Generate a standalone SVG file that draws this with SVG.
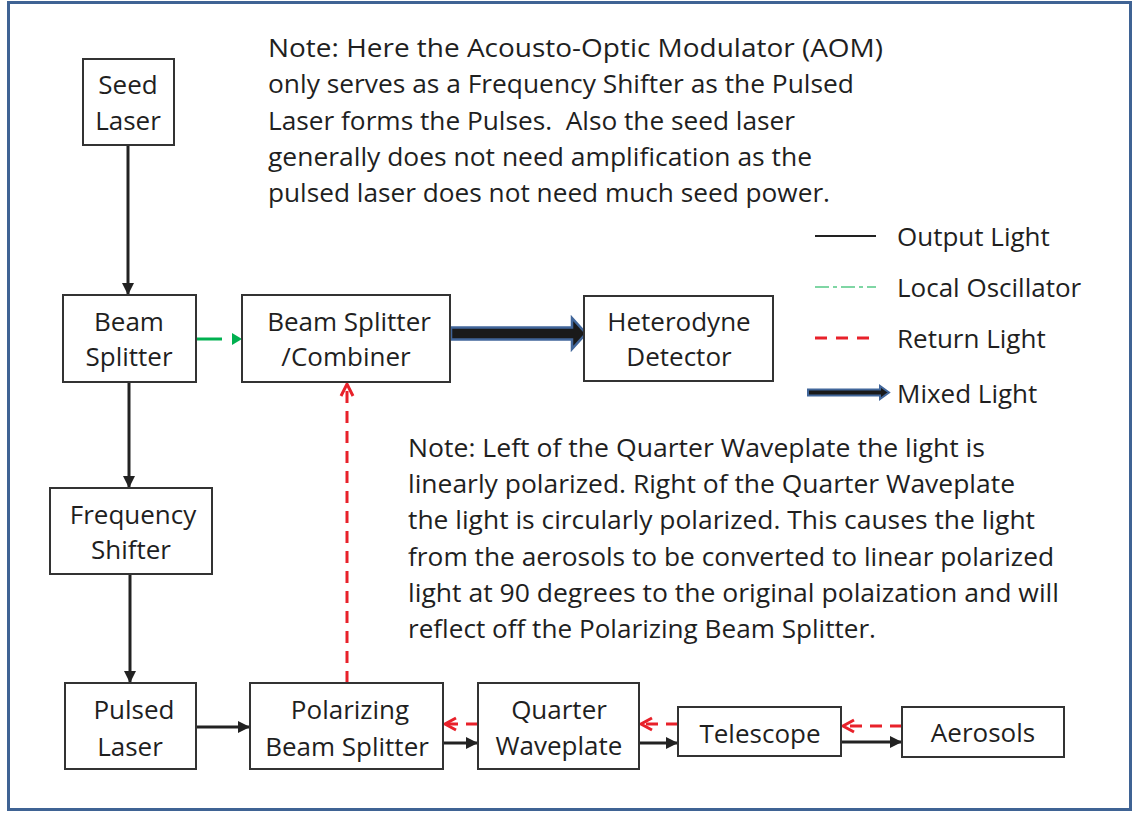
<svg xmlns="http://www.w3.org/2000/svg" width="1133" height="813" viewBox="0 0 1133 813">
<style>
  text { font-family: "Open Sans", "Noto Sans", "Liberation Sans", sans-serif; fill: #1f1f1f; }
  .lbl { font-size: 26px; text-anchor: middle; }
  .note { font-size: 25px; }
  .leg { font-size: 26px; }
  .box { fill: #ffffff; stroke: #333333; stroke-width: 2; }
  .blk { stroke: #222222; stroke-width: 3; fill: none; }
  .red { stroke: #e8212a; stroke-width: 3; fill: none; stroke-dasharray: 12 8; }
  .chev { stroke: #e8212a; stroke-width: 3; fill: none; }
  .grn { stroke: #00b050; stroke-width: 3; fill: none; }
</style>
<defs>
  <marker id="ah" viewBox="0 0 10 10" refX="10" refY="5" markerWidth="4" markerHeight="4" markerUnits="strokeWidth" orient="auto">
    <path d="M0,0 L10,5 L0,10 Z" fill="#222222"/>
  </marker>
</defs>
<rect x="8.5" y="2.5" width="1122" height="807" fill="#ffffff" stroke="#3f6394" stroke-width="3"/>

<g id="connectors">
  <line class="blk" x1="128" y1="146" x2="128" y2="295" marker-end="url(#ah)"/>
  <line class="blk" x1="129" y1="383" x2="129" y2="488" marker-end="url(#ah)"/>
  <line class="blk" x1="130" y1="575" x2="130" y2="683" marker-end="url(#ah)"/>
  <line class="blk" x1="197" y1="727" x2="250" y2="727" marker-end="url(#ah)"/>
  <line class="blk" x1="444" y1="743" x2="478" y2="743" marker-end="url(#ah)"/>
  <line class="blk" x1="640" y1="743" x2="678" y2="743" marker-end="url(#ah)"/>
  <line class="blk" x1="842" y1="742" x2="902" y2="742" marker-end="url(#ah)"/>
  <!-- green local oscillator -->
  <line class="grn" x1="197" y1="339" x2="222" y2="339"/>
  <path d="M232,333 L242,339 L232,345 Z" fill="#00b050"/>
  <!-- mixed light -->
  <path d="M451,327.5 L572,327.5 L572,318 L586,333.5 L572,349 L572,339.5 L451,339.5 Z" fill="#1a1a1a" stroke="#41669a" stroke-width="2.5" stroke-linejoin="miter"/>
  <!-- return light -->
  <line class="red" x1="347" y1="683" x2="347" y2="386"/>
  <path class="chev" d="M341,396 L347,384 L353,396"/>
  <line class="red" x1="478" y1="724" x2="447" y2="724" stroke-dasharray="12 8"/>
  <path class="chev" d="M456,718 L445,724 L456,730"/>
  <line class="red" x1="678" y1="724" x2="643" y2="724" stroke-dasharray="12 8"/>
  <path class="chev" d="M652,718 L641,724 L652,730"/>
  <line class="red" x1="902" y1="726" x2="845" y2="726" stroke-dasharray="14 9"/>
  <path class="chev" d="M854,720 L843,726 L854,732"/>
</g>

<g id="seed-laser">
  <rect class="box" x="83" y="59" width="91" height="86"/>
  <text class="lbl" x="128" y="94">Seed</text>
  <text class="lbl" x="128" y="130">Laser</text>
</g>
<g id="beam-splitter">
  <rect class="box" x="63" y="295" width="133" height="87"/>
  <text class="lbl" x="129" y="331">Beam</text>
  <text class="lbl" x="129" y="366">Splitter</text>
</g>
<g id="beam-splitter-combiner">
  <rect class="box" x="242" y="295" width="208" height="87"/>
  <text class="lbl" x="349" y="331">Beam Splitter</text>
  <text class="lbl" x="346" y="366">/Combiner</text>
</g>
<g id="heterodyne-detector">
  <rect class="box" x="584" y="296" width="189" height="85"/>
  <text class="lbl" x="679" y="331">Heterodyne</text>
  <text class="lbl" x="679" y="366">Detector</text>
</g>
<g id="frequency-shifter">
  <rect class="box" x="50" y="488" width="162" height="86"/>
  <text class="lbl" x="133" y="524">Frequency</text>
  <text class="lbl" x="131" y="559">Shifter</text>
</g>
<g id="pulsed-laser">
  <rect class="box" x="65" y="683" width="131" height="86"/>
  <text class="lbl" x="134" y="719">Pulsed</text>
  <text class="lbl" x="130" y="756">Laser</text>
</g>
<g id="polarizing-beam-splitter">
  <rect class="box" x="250" y="683" width="193" height="86"/>
  <text class="lbl" x="350" y="719">Polarizing</text>
  <text class="lbl" x="347" y="756">Beam Splitter</text>
</g>
<g id="quarter-waveplate">
  <rect class="box" x="478" y="683" width="161" height="86"/>
  <text class="lbl" x="559" y="719">Quarter</text>
  <text class="lbl" x="559" y="755">Waveplate</text>
</g>
<g id="telescope">
  <rect class="box" x="678" y="707" width="163" height="49"/>
  <text class="lbl" x="760" y="743">Telescope</text>
</g>
<g id="aerosols">
  <rect class="box" x="902" y="707" width="162" height="50"/>
  <text class="lbl" x="983" y="742">Aerosols</text>
</g>

<g id="note-aom">
  <text class="note" x="268" y="57" textLength="615" lengthAdjust="spacingAndGlyphs">Note: Here the Acousto-Optic Modulator (AOM)</text>
  <text class="note" x="268" y="93" textLength="586" lengthAdjust="spacingAndGlyphs">only serves as a Frequency Shifter as the Pulsed</text>
  <text class="note" x="268" y="130" textLength="527" lengthAdjust="spacingAndGlyphs" xml:space="preserve">Laser forms the Pulses.  Also the seed laser</text>
  <text class="note" x="268" y="166" textLength="544" lengthAdjust="spacingAndGlyphs">generally does not need amplification as the</text>
  <text class="note" x="268" y="202" textLength="562" lengthAdjust="spacingAndGlyphs">pulsed laser does not need much seed power.</text>
</g>
<g id="note-polarization">
  <text class="note" x="408" y="457" textLength="577" lengthAdjust="spacingAndGlyphs">Note: Left of the Quarter Waveplate the light is</text>
  <text class="note" x="408" y="493" textLength="607" lengthAdjust="spacingAndGlyphs">linearly polarized. Right of the Quarter Waveplate</text>
  <text class="note" x="408" y="529" textLength="627" lengthAdjust="spacingAndGlyphs">the light is circularly polarized. This causes the light</text>
  <text class="note" x="408" y="566" textLength="646" lengthAdjust="spacingAndGlyphs">from the aerosols to be converted to linear polarized</text>
  <text class="note" x="408" y="602" textLength="651" lengthAdjust="spacingAndGlyphs">light at 90 degrees to the original polaization and will</text>
  <text class="note" x="408" y="638" textLength="468" lengthAdjust="spacingAndGlyphs">reflect off the Polarizing Beam Splitter.</text>
</g>

<g id="legend">
  <line x1="815" y1="236" x2="876" y2="236" stroke="#222222" stroke-width="2"/>
  <text class="leg" x="897" y="246">Output Light</text>
  <line x1="815" y1="287" x2="876" y2="287" stroke="#7fd6a4" stroke-width="2" stroke-dasharray="14 4 4 4"/>
  <text class="leg" x="897" y="297">Local Oscillator</text>
  <line x1="815" y1="338" x2="876" y2="338" stroke="#e8212a" stroke-width="3" stroke-dasharray="12 9"/>
  <text class="leg" x="897" y="348">Return Light</text>
  <path d="M808,389.5 L880,389.5 L880,386 L889,392.5 L880,399 L880,395.5 L808,395.5 Z" fill="#1a1a1a" stroke="#41669a" stroke-width="2"/>
  <text class="leg" x="897" y="403">Mixed Light</text>
</g>
</svg>
